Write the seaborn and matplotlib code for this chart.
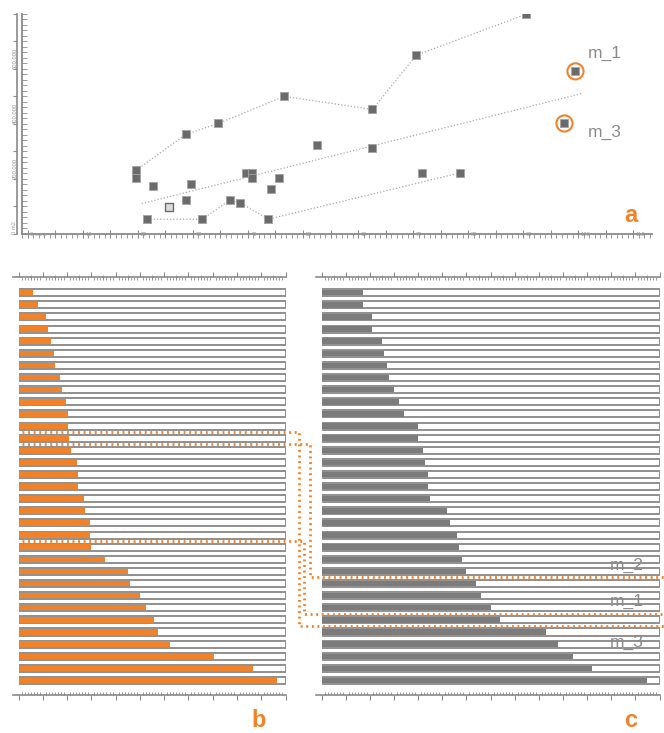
import numpy as np
import pandas as pd
import matplotlib
matplotlib.use("Agg")
import matplotlib.pyplot as plt
from matplotlib.lines import Line2D
from matplotlib.ticker import MultipleLocator
import seaborn as sns

sns.set_theme(style="ticks")
plt.rcParams["font.family"] = ["Liberation Sans", "DejaVu Sans"]

ORANGE = "#f0832a"
FILL_GREY = "#7c7c7c"
AXIS_GREY = "#8a8a8a"
TRACK_EDGE = "#8f8f8f"
TICK_TEXT = "#999999"
NAME_GREY = "#8a8a8a"

# ---- panel a: area against length ----
upper_x = [19.7, 28.7, 34.6, 46.6, 62.6, 70.6, 90.5]
upper_y = [231000, 361000, 401000, 500000, 452000, 650000, 799000]
lower_x = [21.7, 31.7, 36.7, 38.6, 43.7, 78.5]
lower_y = [52000, 52000, 122000, 112000, 52000, 221000]
trend_x = [20.7, 100.6]
trend_y = [109000, 510000]
other_x = [19.7, 22.7, 28.7, 29.7, 39.6, 40.7, 40.7, 44.1, 45.7, 52.6, 62.6, 71.6]
other_y = [201000, 172000, 122000, 181000, 221000, 221000, 201000, 162000, 201000,
           321000, 312000, 221000]
open_x = [25.7]
open_y = [95000]
marked_names = ["m_1", "m_3"]
marked_x = [99.5, 97.5]
marked_y = [591000, 401000]

a_xticks = [0, 10, 20, 30, 40, 50, 60, 70, 80, 90, 100, 110]
a_xlabels = ["0 com", "10", "20", "30", "40", "50", "60", "70", "80", "90", "100", "110"]
a_yticks = [0, 200000, 400000, 600000]
a_ylabels = ["0 m2", "200,000", "400,000", "600,000"]

# ---- panels b and c: two rankings of the same 33 items ----
b_values = [6, 8, 11.5, 12, 13.5, 14.5, 15, 17, 18, 19.5, 20.5, 20.5, 21, 21.5, 24,
            24.5, 24.5, 27, 27.5, 29.5, 29.5, 30, 35.5, 45, 46, 50, 52.5, 56, 57.5,
            62.5, 80.5, 96.5, 106.5]
c_values = [17, 17, 21, 21, 25, 26, 27, 28, 30, 32, 34, 40, 40, 42, 43, 44, 44, 45,
            52, 53, 56, 57, 58, 60, 64, 66, 70, 74, 93, 98, 104, 112, 135]
items = [f"item {i + 1}" for i in range(len(b_values))]
b_scale = 110
c_scale = 140

# links between gaps in ranking b and gaps in ranking c
link_from = [11.5, 12.5, 20.5]
link_to = [27.5, 23.5, 26.5]
link_names = ["m_3", "m_2", "m_1"]

W, H = 664, 733
fig = plt.figure(figsize=(W / 100, H / 100), dpi=100)


def axes_px(left, top, right, bottom):
    return fig.add_axes([left / W, 1 - bottom / H, (right - left) / W, (bottom - top) / H])


ax_a = axes_px(21.7, 14, 652, 233.5)
ax_b = axes_px(18.5, 277, 285.5, 695)
ax_c = axes_px(321.7, 277, 659.5, 695)

# ---------------- panel a ----------------
line_kw = dict(color="#a9a9a9", linewidth=0.9, linestyle=(0, (1, 1.6)),
               sort=False, estimator=None, ax=ax_a, zorder=1)
sns.lineplot(x=upper_x, y=upper_y, **line_kw)
sns.lineplot(x=lower_x, y=lower_y, **line_kw)
sns.lineplot(x=trend_x, y=trend_y, **line_kw)

pts = pd.DataFrame({"x": upper_x + lower_x + other_x + marked_x,
                    "y": upper_y + lower_y + other_y + marked_y})
sns.scatterplot(data=pts, x="x", y="y", marker="s", s=27, color="#6b6b6b",
                edgecolor="#a3a3a3", linewidth=0.6, ax=ax_a, zorder=3)
sns.scatterplot(x=open_x, y=open_y, marker="s", s=27, color="#dcdcdc",
                edgecolor="#6b6b6b", linewidth=1.0, ax=ax_a, zorder=3)
sns.scatterplot(x=marked_x, y=marked_y, marker="o", s=135, color=ORANGE,
                facecolor="none", edgecolor=ORANGE, linewidth=1.5, ax=ax_a, zorder=4)
for name, mx, my, off in zip(marked_names, marked_x, marked_y, [(9.1, 12.6), (16.8, -6.3)]):
    ax_a.annotate(name, (mx, my), xytext=off, textcoords="offset points",
                  ha="left", va="center", fontsize=12.5, color=NAME_GREY)

ax_a.set_xlim(-1.1, 113.4)
ax_a.set_ylim(0, 800000)
ax_a.set_xlabel("")
ax_a.set_ylabel("")
for side in ("top", "right"):
    ax_a.spines[side].set_visible(False)
for side in ("left", "bottom"):
    ax_a.spines[side].set(color=AXIS_GREY, linewidth=1.3)
ax_a.set_xticks(np.arange(0, 114, 5))
ax_a.xaxis.set_minor_locator(MultipleLocator(1))
ax_a.tick_params(axis="x", which="major", direction="inout", length=6, width=0.8,
                 color=AXIS_GREY, bottom=True, labelbottom=False)
ax_a.tick_params(axis="x", which="minor", direction="out", length=3.2, width=0.6,
                 color=AXIS_GREY, bottom=True)
ax_a.set_yticks(np.arange(0, 800001, 20000))
ax_a.tick_params(axis="y", which="major", direction="in", length=3.5, width=0.6,
                 color=AXIS_GREY, left=True, labelleft=False)

xt = ax_a.get_xaxis_transform()
for v, lab in zip(a_xticks, a_xlabels):
    ax_a.text(v + 0.45, -0.006, lab, transform=xt, fontsize=4.2, color=TICK_TEXT,
              ha="left", va="center", clip_on=False)

outer = ax_a.secondary_yaxis(-4.4 / 630.3)
outer.set_yticks(np.arange(0, 800001, 100000))
outer.tick_params(direction="out", length=3, width=0.8, color=AXIS_GREY, labelleft=False)
outer.spines["left"].set(color=AXIS_GREY, linewidth=1.2)
yt = ax_a.get_yaxis_transform()
for v, lab in zip(a_yticks, a_ylabels):
    ax_a.text(-0.0075, v, lab, transform=yt, rotation=90, fontsize=4.2, color=TICK_TEXT,
              ha="right", va="bottom", clip_on=False)


# ---------------- panels b and c ----------------
def rank_panel(ax, values, fill, scale):
    n = len(values)
    sns.barplot(x=[scale] * n, y=items, orient="h", color="white", edgecolor=TRACK_EDGE,
                linewidth=1.4, width=0.58, saturation=1, errorbar=None, ax=ax)
    sns.barplot(x=values, y=items, orient="h", color=fill, linewidth=0, width=0.45,
                saturation=1, errorbar=None, ax=ax)
    ax.set_xlim(0, scale)
    ax.set_ylim(n + 0.2, -1.3)
    ax.set_xlabel("")
    ax.set_ylabel("")
    ax.set_yticks([])
    for side in ("left", "right", "bottom"):
        ax.spines[side].set_visible(False)
    ax.spines["top"].set(color=AXIS_GREY, linewidth=1.2)
    ax.spines["top"].set_bounds(-2.4, scale)
    majors = np.arange(0, scale + 0.1, 10)
    ax.xaxis.set_ticks_position("top")
    ax.set_xticks(majors)
    ax.xaxis.set_minor_locator(MultipleLocator(1.25))
    ax.tick_params(axis="x", which="major", direction="out", length=3.6, width=0.8,
                   color=AXIS_GREY, top=True, bottom=False, labeltop=False, labelbottom=False)
    ax.tick_params(axis="x", which="minor", direction="in", length=2.4, width=0.6,
                   color=AXIS_GREY, top=True, bottom=False)
    half = ax.secondary_xaxis("top")
    half.set_xticks(np.arange(5, scale, 10))
    half.tick_params(direction="inout", length=2.6, width=0.7, color=AXIS_GREY, labeltop=False)
    half.spines["top"].set_visible(False)

    low = ax.secondary_xaxis("bottom")
    low.set_xticks(majors)
    low.xaxis.set_minor_locator(MultipleLocator(1.25))
    low.tick_params(which="major", direction="out", length=3.6, width=0.8,
                    color=AXIS_GREY, labelbottom=False)
    low.tick_params(which="minor", direction="in", length=2.4, width=0.6, color=AXIS_GREY)
    low.spines["bottom"].set(color=AXIS_GREY, linewidth=1.2)
    low.spines["bottom"].set_bounds(-2.4, scale)


rank_panel(ax_b, b_values, ORANGE, b_scale)
rank_panel(ax_c, c_values, FILL_GREY, c_scale)


def fig_y(ax, y):
    return fig.transFigure.inverted().transform(ax.transData.transform((0, y)))[1]


def fig_x(ax, x):
    return fig.transFigure.inverted().transform(ax.transData.transform((x, 0)))[0]


x_start = fig_x(ax_b, 1.3)
for src, dst, turn_px in zip(link_from, link_to, [299, 310, 304]):
    yb, yc = fig_y(ax_b, src), fig_y(ax_c, dst)
    tx = turn_px / W
    fig.add_artist(Line2D([x_start, tx, tx, 1.0], [yb, yb, yc, yc],
                          transform=fig.transFigure, color=ORANGE, linewidth=2.0,
                          linestyle=(0, (0.7, 1.3)), dash_capstyle="butt", zorder=5))

for name, dst in zip(link_names, link_to):
    pos = dst + (1.7 if name == "m_3" else -0.65)
    ax_c.text(119.4, pos, name, ha="left", va="baseline", fontsize=12.5,
              color=NAME_GREY, zorder=6)

for letter, cx, base in [("a", 631, 222), ("b", 258.5, 727), ("c", 631, 727)]:
    fig.text(cx / W, 1 - base / H, letter, ha="center", va="baseline",
             fontsize=17, fontweight="bold", color=ORANGE)

fig.savefig("out.png", dpi=100)
